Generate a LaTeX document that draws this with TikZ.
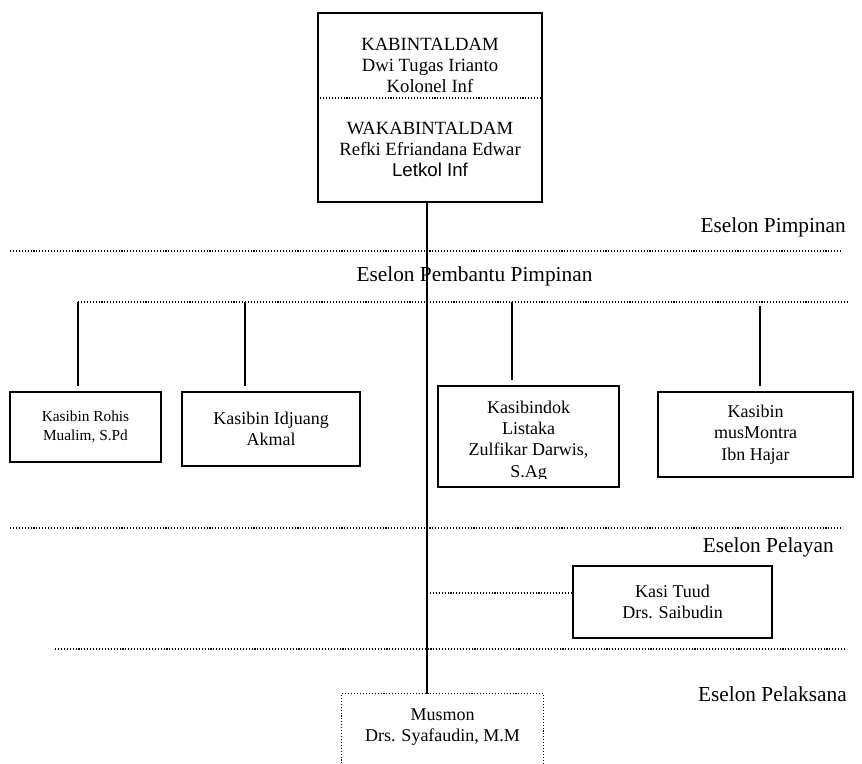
\documentclass[tikz,border=0pt]{standalone}
\usepackage{fontspec}
\setmainfont{Liberation Serif}
\setsansfont{Liberation Sans}
\usetikzlibrary{positioning}

\begin{document}
\begin{tikzpicture}[
    x=0.75pt, y=-0.75pt,
    box/.style={draw, line width=1.3pt, align=center, inner sep=0pt},
    conn/.style={line width=1.2pt},
    dotline/.style={line width=0.8pt, dash pattern=on 0.8pt off 1.4pt},
    eselon/.style={font=\fontsize{16}{19}\selectfont, inner sep=0pt},
    font=\fontsize{13.5}{16}\selectfont
  ]
    \useasboundingbox (0,0) rectangle (862,763);
    \node[box, minimum width=168pt, minimum height=141.75pt, font=\fontsize{14}{15.75}\selectfont] (pimpinan) at (430,107.5) {KABINTALDAM\\Dwi Tugas Irianto\\Kolonel Inf\\[15.75pt]WAKABINTALDAM\\Refki Efriandana Edwar\\\textsf{Letkol Inf}};
    \coordinate (divider) at (0,98);
    \draw[dotline] (pimpinan.west |- divider) -- (pimpinan.east |- divider);

    \draw[dotline] (10,251) -- (843,251);
    \draw[dotline] (78,302) -- (848,302);
    \draw[dotline] (10,528) -- (843,528);
    \draw[dotline] (55,649) -- (847,649);

    \node[eselon, anchor=east] (lpimpinan) at (846,227) {Eselon Pimpinan};
    \node[eselon] (lpembantu) at (474.5,276) {Eselon Pembantu Pimpinan};
    \node[eselon, anchor=east] (lpelayan) at (834,547) {Eselon Pelayan};
    \node[eselon, anchor=east] (lpelaksana) at (847,694) {Eselon Pelaksana};

    \node[box, minimum width=113.25pt, minimum height=52.5pt, font=\fontsize{11.5}{14.25}\selectfont] (rohis) at (85.5,427) {Kasibin Rohis\\Mualim, S.Pd};
    \node[box, minimum width=133.5pt, minimum height=55.5pt] (idjuang) at (271,429) {Kasibin Idjuang\\Akmal};
    \node[box, minimum width=135.75pt, minimum height=75.75pt] (kasibindok) at (528.5,436.5) {};
    \begin{scope}
      \clip (438,386) rectangle (619,478);
      \node[align=center, inner sep=0pt] (kasibindoktext) at (528.5,441) {Kasibindok\\Listaka\\Zulfikar Darwis,\\S.Ag};
    \end{scope}
    \node[box, minimum width=146.25pt, minimum height=63.75pt] (montra) at (755.5,434.5) {Kasibin\\musMontra\\Ibn Hajar};
    \node[box, minimum width=149.25pt, minimum height=54pt] (tuud) at (672.5,602) {Kasi Tuud\\Drs. Saibudin};
    \node[align=center, inner sep=0pt, minimum width=150.75pt, minimum height=49.5pt] (musmon) at (442.5,727) {Musmon\\Drs. Syafaudin, M.M};
    \draw[dotline] ([yshift=-20pt]musmon.south west) -- (musmon.north west) -- (musmon.north east) -- ([yshift=-20pt]musmon.south east);

    \coordinate (spine) at (427,0);
    \draw[conn] (pimpinan.south -| spine) -- (musmon.north -| spine);
    \coordinate (tuudbranch) at (427,593);
    \draw[dotline] (tuudbranch) -- (tuudbranch -| tuud.west);
    \foreach \name/\x/\y in {rohis/78/302, idjuang/245/302, kasibindok/512/302, montra/760/306} {
      \coordinate (top\name) at (\x,\y);
      \draw[conn, shorten >=4pt] (top\name) -- (top\name |- \name.north);
    }
  \end{tikzpicture}
\end{document}
